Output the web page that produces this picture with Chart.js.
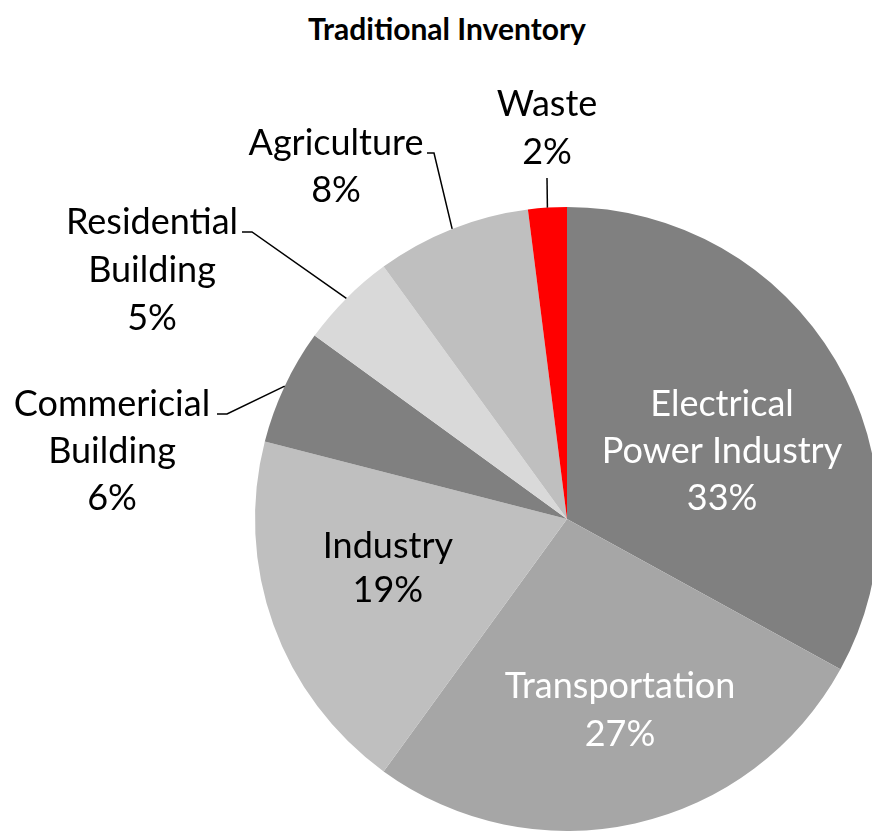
<!DOCTYPE html>
<html><head><meta charset="utf-8">
<script src="https://cdn.jsdelivr.net/npm/chart.js@4"></script>
<style>
html,body{margin:0;padding:0;overflow:hidden;background:#fff;width:872px;height:831px;position:relative}
#title{position:absolute;left:0;top:10px;width:894px;text-align:center;font:bold 30px/36px Lato, sans-serif;color:#000}
canvas{position:absolute;left:0;top:0}
</style></head><body>
<div id="title">Traditional Inventory</div>
<canvas id="c" width="900" height="900"></canvas>
<script>
const categories = ['Electrical\nPower Industry', 'Transportation', 'Industry', 'Commericial\nBuilding', 'Residential\nBuilding', 'Agriculture', 'Waste'];
const shares = [33, 27, 19, 6, 5, 8, 2];
const sliceColors = ['#808080', '#a6a6a6', '#bfbfbf', '#808080', '#d9d9d9', '#bfbfbf', '#ff0000'];

// label layout (relative to the pie centre)
const placements = [
  {inside:true, dx:0.497, dy:-0.218, color:'#fff', lh:47},
  {inside:true, dx:0.170, dy:0.612, color:'#fff', lh:48},
  {inside:true, dx:-0.574, dy:0.157, color:'#000', lh:44},
  {inside:false, tx:-455, ty:-68, ex:-340, ey:-105, hx:-350, color:'#000', lh:47},
  {inside:false, tx:-415, ty:-249, ex:-315, ey:-287, hx:-325, color:'#000', lh:48},
  {inside:false, tx:-231, ty:-352, ex:-133, ey:-366, hx:-140, color:'#000', lh:47},
  {inside:false, tx:-20, ty:-391, ex:-20, ey:-341, hx:null, color:'#000', lh:48}
];

const labelPlugin = {
  id: 'sliceLabels',
  afterDatasetsDraw(chart) {
    const ctx = chart.ctx;
    const meta = chart.getDatasetMeta(0);
    meta.data.forEach((arc, i) => {
      const p = placements[i];
      const {x, y, outerRadius, startAngle, endAngle} = arc.getProps(['x','y','outerRadius','startAngle','endAngle'], true);
      const mid = (startAngle + endAngle) / 2;
      const lines = categories[i].split('\n').concat([shares[i] + '%']);
      ctx.save();
      ctx.font = '36px Lato, sans-serif';
      ctx.fillStyle = p.color;
      ctx.textAlign = 'center';
      ctx.textBaseline = 'middle';
      let cx, cy;
      if (p.inside) { cx = x + p.dx * outerRadius; cy = y + p.dy * outerRadius; }
      else { cx = x + p.tx; cy = y + p.ty; }
      const top = cy - (lines.length - 1) * p.lh / 2;
      lines.forEach((t, k) => ctx.fillText(t, cx, top + k * p.lh));
      if (!p.inside) {
        ctx.beginPath();
        ctx.moveTo(x + Math.cos(mid) * outerRadius, y + Math.sin(mid) * outerRadius);
        ctx.lineTo(x + p.ex, y + p.ey);
        if (p.hx !== null) ctx.lineTo(x + p.hx, y + p.ey);
        ctx.strokeStyle = '#000';
        ctx.lineWidth = 1.5;
        ctx.stroke();
      }
      ctx.restore();
    });
  }
};

new Chart(document.getElementById('c'), {
  type: 'pie',
  data: {
    labels: categories,
    datasets: [{
      data: shares,
      backgroundColor: sliceColors,
      borderWidth: 0,
      hoverOffset: 0
    }]
  },
  options: {
    responsive: false,
    animation: false,
    devicePixelRatio: 1,
    layout: {padding: {left: 255, top: 207, right: 21, bottom: 69}},
    plugins: {legend: {display: false}, tooltip: {enabled: false}, title: {display: false}}
  },
  plugins: [labelPlugin]
});
</script>
</body></html>
